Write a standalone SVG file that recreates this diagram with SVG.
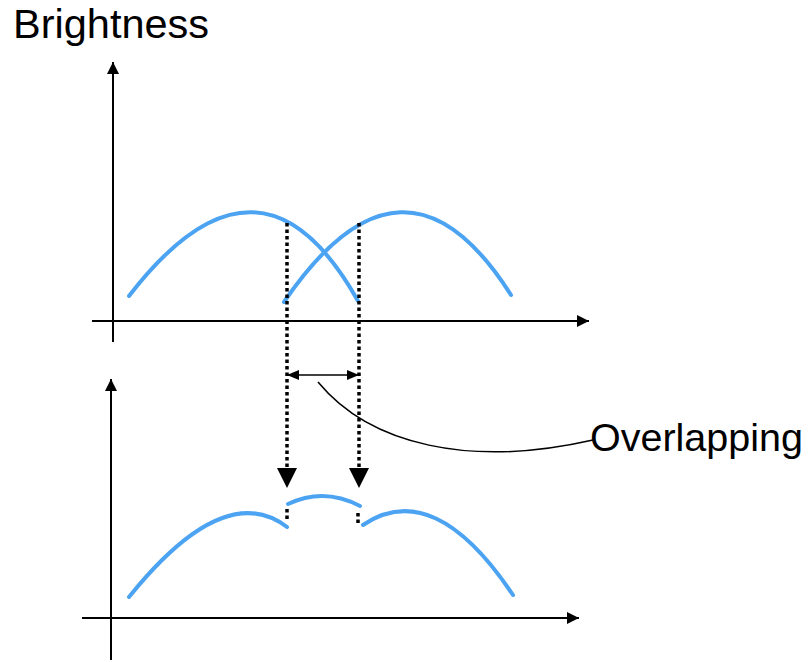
<svg xmlns="http://www.w3.org/2000/svg" width="810" height="662" viewBox="0 0 810 662">
<style>
.axis{stroke:#000;stroke-width:2;fill:none}
.curve{stroke:#4ba3f2;stroke-width:4;fill:none;stroke-linecap:round}
.dot{stroke:#000;stroke-width:3.5;stroke-dasharray:3.5 3;fill:none}
.thin{stroke:#000;stroke-width:1.5;fill:none}
.label{font-family:"Liberation Sans",Arial,sans-serif;fill:#000}
</style>
<defs>
<marker id="ah" viewBox="0 0 12 12" refX="12" refY="6" markerWidth="12" markerHeight="12" markerUnits="userSpaceOnUse" orient="auto">
<path d="M0,0 L12,6 L0,12 Z" fill="#000"/>
</marker>
<marker id="sh" viewBox="0 0 12 10" refX="12" refY="5" markerWidth="12" markerHeight="10" markerUnits="userSpaceOnUse" orient="auto-start-reverse">
<path d="M0,0 L12,5 L0,10 Z" fill="#000"/>
</marker>
</defs>
<text class="label" x="13" y="38" font-size="41.5">Brightness</text>
<g id="top-axes">
<line class="axis" x1="113" y1="342" x2="113" y2="62" marker-end="url(#ah)"/>
<line class="axis" x1="92" y1="321" x2="589" y2="321" marker-end="url(#ah)"/>
</g>
<g id="top-curves">
<path class="curve" d="M129,296 Q260,126 358,301"/>
<path class="curve" d="M284,302 Q404,126 511,295"/>
</g>
<g id="bottom-axes">
<line class="axis" x1="111" y1="660" x2="111" y2="379" marker-end="url(#ah)"/>
<line class="axis" x1="82" y1="618" x2="579" y2="618" marker-end="url(#ah)"/>
</g>
<g id="bottom-curves">
<path class="curve" d="M129,597 Q224,479 287,527"/>
<path class="curve" d="M288,504 Q324,487 360,506"/>
<path class="curve" d="M363,525 Q434,477 513,595"/>
</g>
<g id="connectors">
<line class="dot" x1="287" y1="223" x2="287" y2="470"/>
<line class="dot" x1="359" y1="223" x2="359" y2="470"/>
<path d="M277,468 L297,468 L287,488 Z" fill="#000"/>
<path d="M349,468 L369,468 L359,488 Z" fill="#000"/>
<line class="dot" x1="287" y1="509" x2="287" y2="522"/>
<line class="dot" x1="358" y1="513" x2="358" y2="526"/>
<line class="thin" x1="287" y1="375" x2="359" y2="375" marker-start="url(#sh)" marker-end="url(#sh)"/>
<path class="thin" d="M318,382 C370,445 470,468 593,440"/>
</g>
<text class="label" x="590" y="451" font-size="39.5">Overlapping</text>
</svg>
